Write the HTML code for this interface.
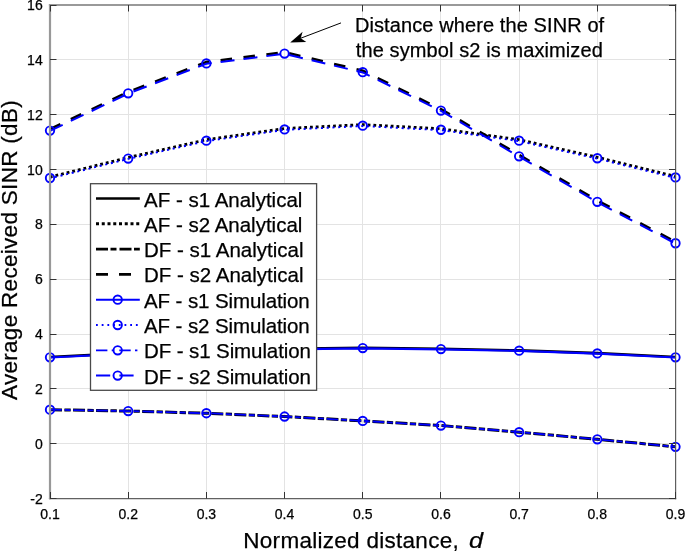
<!DOCTYPE html>
<html><head><meta charset="utf-8"><style>
html,body{margin:0;padding:0;background:#fff;}
body{width:685px;height:551px;overflow:hidden;}
svg{display:block;will-change:transform;}
text{stroke:#000;stroke-width:0.25px;}
svg{font-family:"Liberation Sans",sans-serif;}
</style></head><body>
<svg width="685" height="551" viewBox="0 0 685 551">
<rect width="685" height="551" fill="#fff"/>
<path d="M128.50 5.0V498.5M206.50 5.0V498.5M284.50 5.0V498.5M362.50 5.0V498.5M440.50 5.0V498.5M519.50 5.0V498.5M597.50 5.0V498.5M675.50 5.0V498.5M50.0 443.50H675.5M50.0 388.50H675.5M50.0 334.50H675.5M50.0 279.50H675.5M50.0 224.50H675.5M50.0 169.50H675.5M50.0 114.50H675.5M50.0 59.50H675.5M50.0 5.50H675.5" stroke="#e3e3e3" stroke-width="1" fill="none"/>
<polyline points="50.00,357.00 128.19,353.17 206.38,350.42 284.56,348.78 362.75,347.82 440.94,348.78 519.12,350.42 597.31,353.17 675.50,357.00" fill="none" stroke="#000" stroke-width="2.6"/>
<polyline points="50.00,177.00 128.19,157.53 206.38,139.71 284.56,128.47 362.75,124.63 440.94,128.75 519.12,139.71 597.31,157.26 675.50,176.45" fill="none" stroke="#000" stroke-width="2.8" stroke-dasharray="2.8 2.969" stroke-dashoffset="0.12"/>
<polyline points="50.00,409.67 128.19,411.04 206.38,413.23 284.56,416.52 362.75,420.91 440.94,425.57 519.12,432.15 597.31,439.28 675.50,446.82" fill="none" stroke="#000" stroke-width="3" stroke-dasharray="12 2.4 6.3 2.35"/>
<polyline points="50.00,129.17 128.19,91.88 206.38,62.00 284.56,52.13 362.75,70.77 440.94,109.15 519.12,154.94 597.31,200.45 675.50,241.85" fill="none" stroke="#000" stroke-width="2.6" stroke-dasharray="11.54 11.54"/>
<polyline points="50.00,357.50 128.19,353.67 206.38,350.92 284.56,349.28 362.75,348.32 440.94,349.28 519.12,350.92 597.31,353.67 675.50,357.50" fill="none" stroke="#0000ff" stroke-width="2.2"/>
<polyline points="50.00,178.40 128.19,158.93 206.38,141.11 284.56,129.87 362.75,126.03 440.94,130.15 519.12,141.11 597.31,158.66 675.50,177.85" fill="none" stroke="#0000ff" stroke-width="1.9" stroke-dasharray="2.1 3.669" stroke-dashoffset="0.75"/>
<polyline points="50.00,409.67 128.19,411.04 206.38,413.23 284.56,416.52 362.75,420.91 440.94,425.57 519.12,432.15 597.31,439.28 675.50,446.82" fill="none" stroke="#0000ff" stroke-width="1.8" stroke-dasharray="11.4 3 5.7 2.95" stroke-dashoffset="-0.3"/>
<polyline points="50.00,130.87 128.19,93.58 206.38,63.70 284.56,53.83 362.75,72.47 440.94,110.85 519.12,156.64 597.31,202.15 675.50,243.55" fill="none" stroke="#0000ff" stroke-width="2.0" stroke-dasharray="14.05 9.03"/>
<g fill="none" stroke="#0000ff" stroke-width="1.9"><circle cx="50.00" cy="357.30" r="4.2"/><circle cx="128.19" cy="353.47" r="4.2"/><circle cx="206.38" cy="350.72" r="4.2"/><circle cx="284.56" cy="349.08" r="4.2"/><circle cx="362.75" cy="348.12" r="4.2"/><circle cx="440.94" cy="349.08" r="4.2"/><circle cx="519.12" cy="350.72" r="4.2"/><circle cx="597.31" cy="353.47" r="4.2"/><circle cx="675.50" cy="357.30" r="4.2"/><circle cx="50.00" cy="178.00" r="4.2"/><circle cx="128.19" cy="158.53" r="4.2"/><circle cx="206.38" cy="140.71" r="4.2"/><circle cx="284.56" cy="129.47" r="4.2"/><circle cx="362.75" cy="125.63" r="4.2"/><circle cx="440.94" cy="129.75" r="4.2"/><circle cx="519.12" cy="140.71" r="4.2"/><circle cx="597.31" cy="158.26" r="4.2"/><circle cx="675.50" cy="177.45" r="4.2"/><circle cx="50.00" cy="409.67" r="4.2"/><circle cx="128.19" cy="411.04" r="4.2"/><circle cx="206.38" cy="413.23" r="4.2"/><circle cx="284.56" cy="416.52" r="4.2"/><circle cx="362.75" cy="420.91" r="4.2"/><circle cx="440.94" cy="425.57" r="4.2"/><circle cx="519.12" cy="432.15" r="4.2"/><circle cx="597.31" cy="439.28" r="4.2"/><circle cx="675.50" cy="446.82" r="4.2"/><circle cx="50.00" cy="130.57" r="4.2"/><circle cx="128.19" cy="93.28" r="4.2"/><circle cx="206.38" cy="63.40" r="4.2"/><circle cx="284.56" cy="53.53" r="4.2"/><circle cx="362.75" cy="72.17" r="4.2"/><circle cx="440.94" cy="110.55" r="4.2"/><circle cx="519.12" cy="156.34" r="4.2"/><circle cx="597.31" cy="201.85" r="4.2"/><circle cx="675.50" cy="243.25" r="4.2"/></g>
<path d="M48.9 5H676.2" stroke="#999" stroke-width="2"/>
<path d="M48.9 498.6H676.2" stroke="#616161" stroke-width="1.4"/>
<path d="M50 4V499.3" stroke="#989898" stroke-width="2.2"/>
<path d="M675.6 4V499.3" stroke="#5e5e5e" stroke-width="1.2"/>
<path d="M50.50 498.5v-6.5M50.50 5.0v6.5M128.50 498.5v-6.5M128.50 5.0v6.5M206.50 498.5v-6.5M206.50 5.0v6.5M284.50 498.5v-6.5M284.50 5.0v6.5M362.50 498.5v-6.5M362.50 5.0v6.5M440.50 498.5v-6.5M440.50 5.0v6.5M519.50 498.5v-6.5M519.50 5.0v6.5M597.50 498.5v-6.5M597.50 5.0v6.5M675.50 498.5v-6.5M675.50 5.0v6.5M50.0 498.50h6.5M675.5 498.50h-6.5M50.0 443.50h6.5M675.5 443.50h-6.5M50.0 388.50h6.5M675.5 388.50h-6.5M50.0 334.50h6.5M675.5 334.50h-6.5M50.0 279.50h6.5M675.5 279.50h-6.5M50.0 224.50h6.5M675.5 224.50h-6.5M50.0 169.50h6.5M675.5 169.50h-6.5M50.0 114.50h6.5M675.5 114.50h-6.5M50.0 59.50h6.5M675.5 59.50h-6.5M50.0 5.50h6.5M675.5 5.50h-6.5" stroke="#333" stroke-width="1" fill="none"/>
<g font-size="14" fill="#000"><text x="50.00" y="519.2" text-anchor="middle">0.1</text><text x="128.19" y="519.2" text-anchor="middle">0.2</text><text x="206.38" y="519.2" text-anchor="middle">0.3</text><text x="284.56" y="519.2" text-anchor="middle">0.4</text><text x="362.75" y="519.2" text-anchor="middle">0.5</text><text x="440.94" y="519.2" text-anchor="middle">0.6</text><text x="519.12" y="519.2" text-anchor="middle">0.7</text><text x="597.31" y="519.2" text-anchor="middle">0.8</text><text x="675.50" y="519.2" text-anchor="middle">0.9</text><text x="42.7" y="503.50" text-anchor="end">-2</text><text x="42.7" y="448.67" text-anchor="end">0</text><text x="42.7" y="393.83" text-anchor="end">2</text><text x="42.7" y="339.00" text-anchor="end">4</text><text x="42.7" y="284.17" text-anchor="end">6</text><text x="42.7" y="229.33" text-anchor="end">8</text><text x="42.7" y="174.50" text-anchor="end">10</text><text x="42.7" y="119.67" text-anchor="end">12</text><text x="42.7" y="64.83" text-anchor="end">14</text><text x="42.7" y="10.00" text-anchor="end">16</text></g>
<text x="243.3" y="547.6" font-size="22.5" letter-spacing="0.28">Normalized distance,</text>
<text transform="translate(469.0 547.6) scale(1.12 1)" font-size="22.6" font-style="italic">d</text>
<text transform="translate(16.9 250.0) rotate(-90)" text-anchor="middle" font-size="22.5" letter-spacing="0.3">Average Received SINR (dB)</text>
<rect x="90.5" y="183.7" width="226.10000000000002" height="206.60000000000002" fill="#fff" stroke="#4a4a4a" stroke-width="1.3"/>
<path d="M96 198.50H139.8" stroke="#000" stroke-width="2.6" fill="none"/><text x="144.0" y="206.50" font-size="20.5" letter-spacing="0.0">AF - s1 Analytical</text><path d="M96 223.80H139.8" stroke="#000" stroke-width="3.0" stroke-dasharray="3 2.75" fill="none"/><text x="144.0" y="231.80" font-size="20.5" letter-spacing="0.0">AF - s2 Analytical</text><path d="M96 249.10H139.8" stroke="#000" stroke-width="2.6" stroke-dasharray="12 2.5 6 3" fill="none"/><text x="144.0" y="257.10" font-size="20.5" letter-spacing="0.0">DF - s1 Analytical</text><path d="M96 274.40H139.8" stroke="#000" stroke-width="2.6" stroke-dasharray="12 11" fill="none"/><text x="144.0" y="282.40" font-size="20.5" letter-spacing="0.0">DF - s2 Analytical</text><path d="M96 299.70H139.8" stroke="#0000ff" stroke-width="2.0" fill="none"/><circle cx="117.7" cy="299.70" r="4.2" fill="none" stroke="#0000ff" stroke-width="1.9"/><text x="144.0" y="307.70" font-size="20.5" letter-spacing="-0.1">AF - s1 Simulation</text><path d="M96 325.00H139.8" stroke="#0000ff" stroke-width="1.8" stroke-dasharray="1.8 3.9" fill="none"/><circle cx="117.7" cy="325.00" r="4.2" fill="none" stroke="#0000ff" stroke-width="1.9"/><text x="144.0" y="333.00" font-size="20.5" letter-spacing="-0.1">AF - s2 Simulation</text><path d="M96 350.30H139.8" stroke="#0000ff" stroke-width="1.7" stroke-dasharray="11.4 4.3 2.4 5.2" fill="none"/><circle cx="117.7" cy="350.30" r="4.2" fill="none" stroke="#0000ff" stroke-width="1.9"/><text x="144.0" y="358.30" font-size="20.5" letter-spacing="-0.1">DF - s1 Simulation</text><path d="M96 375.60H139.8" stroke="#0000ff" stroke-width="2.0" stroke-dasharray="14.2 9.2" fill="none"/><circle cx="117.7" cy="375.60" r="4.2" fill="none" stroke="#0000ff" stroke-width="1.9"/><text x="144.0" y="383.60" font-size="20.5" letter-spacing="-0.1">DF - s2 Simulation</text>
<text x="354.9" y="32.2" font-size="20" letter-spacing="0.1">Distance where the SINR of</text>
<text x="355.8" y="56.8" font-size="20" letter-spacing="0.1">the symbol s2 is maximized</text>
<path d="M341 22.9L300.8 38.2" stroke="#000" stroke-width="1" fill="none"/>
<path d="M290.2 42.5L302.6 31.7L300.7 38.3L306.3 41.9Z" fill="#000"/>
</svg>
</body></html>
